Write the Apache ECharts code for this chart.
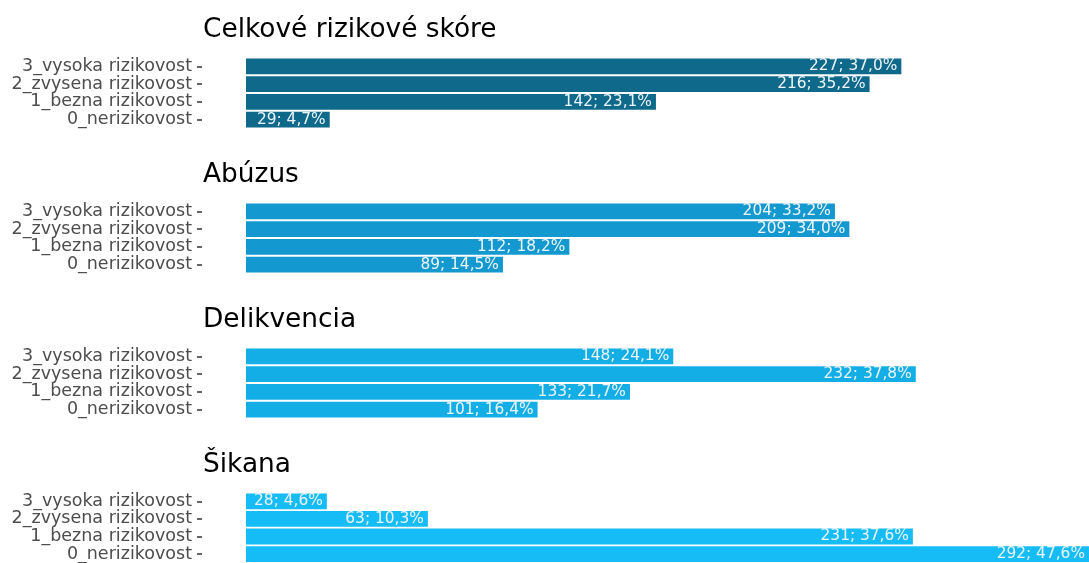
<!DOCTYPE html>
<html lang="sk">
<head>
    <meta charset="UTF-8">
    <script type="text/javascript" src="https://cdn.jsdelivr.net/npm/echarts@6.0.0/dist/echarts.min.js"></script>
    <style>
        html, body {
            margin: 0;
            overflow: hidden;
            background: #fff;
        }
        #viewport {
            position: absolute;
            left: 0px;
            top: 0px;
            width: 1089px;
            height: 563px;
        }
    </style>
</head>
<body>
<div id="viewport"></div>
<script>
    // categories, bottom to top (echarts draws the first category at the bottom)
    var categories = ['0_nerizikovost', '1_bezna rizikovost', '2_zvysena rizikovost', '3_vysoka rizikovost'];

    var panelTitles = ['Celkové rizikové skóre', 'Abúzus', 'Delikvencia', 'Šikana'];
    var panelColors = ['#0f698b', '#1399cf', '#14aee7', '#16bcf5'];

    var celkoveCounts = [29, 142, 216, 227];
    var celkovePct = ['4,7', '23,1', '35,2', '37,0'];
    var abuzusCounts = [89, 112, 209, 204];
    var abuzusPct = ['14,5', '18,2', '34,0', '33,2'];
    var delikvenciaCounts = [101, 133, 232, 148];
    var delikvenciaPct = ['16,4', '21,7', '37,8', '24,1'];
    var sikanaCounts = [292, 231, 63, 28];
    var sikanaPct = ['47,6', '37,6', '10,3', '4,6'];

    var panelCounts = [celkoveCounts, abuzusCounts, delikvenciaCounts, sikanaCounts];
    var panelPct = [celkovePct, abuzusPct, delikvenciaPct, sikanaPct];

    var FONT = 'DejaVu Sans';
    var step = 145;

    var myChart = echarts.init(document.getElementById('viewport'), null, {renderer: 'canvas'});

    var titles = [], grids = [], xAxes = [], yAxes = [], series = [];
    panelTitles.forEach(function (name, i) {
        var top = 58 + i * step;
        titles.push({
            text: name,
            left: 198,
            top: top - 46,
            textStyle: {fontFamily: FONT, fontSize: 26.4, fontWeight: 'normal', color: '#000'}
        });
        // panel starts at x=202, the zero line sits a bit to the right (ggplot-like expansion)
        grids.push({left: 202, right: 0, top: top - 0.5, height: 71});
        xAxes.push({
            type: 'value', gridIndex: i, min: -15.24, max: 292,
            show: false
        });
        yAxes.push({
            type: 'category', gridIndex: i, data: categories,
            axisLine: {show: false, onZero: false},
            axisTick: {show: true, alignWithLabel: true, length: 5, lineStyle: {color: '#333', width: 1.5}},
            axisLabel: {interval: 0, fontFamily: FONT, fontSize: 17.5, color: '#4d4d4d', margin: 10}
        });
        var pct = panelPct[i];
        series.push({
            type: 'bar', xAxisIndex: i, yAxisIndex: i,
            data: panelCounts[i],
            barCategoryGap: '10%',
            itemStyle: {color: panelColors[i]},
            label: {
                show: true, position: 'insideRight', distance: 4,
                fontFamily: FONT, fontSize: 15.4, color: '#eef5f8',
                formatter: function (p) { return p.value + '; ' + pct[p.dataIndex] + '%'; }
            }
        });
    });

    myChart.setOption({
        animation: false,
        title: titles,
        grid: grids,
        xAxis: xAxes,
        yAxis: yAxes,
        series: series
    });
</script>
</body>
</html>
